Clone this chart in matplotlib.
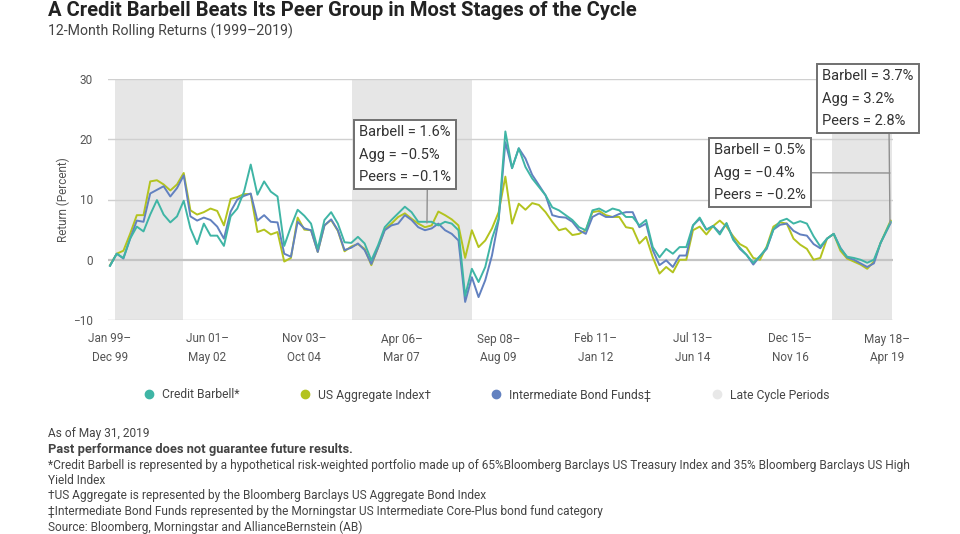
import numpy as np
from matplotlib import pyplot as plt
from matplotlib import font_manager
from matplotlib.lines import Line2D

names = {f.name for f in font_manager.fontManager.ttflist}
cond = 'Liberation Sans Narrow' if 'Liberation Sans Narrow' in names else 'Roboto'
plt.rcParams['font.family'] = [cond, 'DejaVu Sans']

# month index (0 = Dec 99), sampled every other month, last point May 19
months = np.append(np.arange(0, 232, 2), 233)

barbell = [-1.0, 1.0, 0.3, 3.5, 5.5, 4.7, 7.5, 9.9, 7.5, 6.2,
           7.2, 9.8, 5.2, 2.6, 6.0, 4.0, 4.0, 2.3, 7.2, 8.5,
           11.3, 15.8, 10.8, 13.0, 11.3, 10.5, 2.3, 5.5, 8.3, 7.3,
           6.0, 1.8, 6.6, 7.9, 6.0, 2.9, 2.8, 3.8, 2.7, -0.1,
           2.4, 5.4, 6.6, 7.7, 8.8, 7.9, 6.3, 6.3, 6.3, 5.7,
           6.3, 6.0, 4.9, -6.0, -1.5, -3.7, -1.2, 3.5, 6.8, 21.3,
           15.2, 18.5, 15.4, 13.5, 12.1, 10.7, 8.7, 8.2, 7.4, 6.6,
           5.4, 4.9, 8.2, 8.5, 7.9, 8.5, 8.2, 7.1, 7.1, 5.7,
           6.6, 2.1, 0.4, 1.8, 1.0, 2.1, 2.1, 5.7, 7.0, 5.0,
           5.6, 4.2, 6.1, 3.3, 2.0, 0.8, -0.5, 0.6, 2.0, 5.0,
           6.4, 6.8, 6.0, 6.4, 6.0, 3.9, 2.2, 3.5, 4.3, 1.9,
           0.5, 0.3, 0.0, -0.5, 0.0, 2.8, 6.3]

agg = [-0.9, 1.0, 1.5, 4.3, 7.4, 7.4, 13.0, 13.2, 12.5, 11.5,
       12.5, 14.4, 8.2, 7.5, 7.9, 8.5, 8.1, 5.7, 10.1, 10.4,
       10.9, 10.9, 4.6, 5.0, 4.2, 4.6, -0.3, 0.3, 7.0, 5.0,
       4.9, 1.3, 5.7, 6.6, 4.8, 1.4, 2.2, 2.6, 1.8, -0.9,
       2.0, 5.0, 6.0, 7.1, 7.7, 6.8, 6.0, 5.4, 5.7, 8.0,
       7.4, 6.7, 5.7, 0.3, 4.9, 2.1, 3.2, 5.2, 7.9, 13.8,
       6.0, 9.3, 8.3, 9.4, 9.1, 7.9, 6.3, 4.9, 5.2, 4.1,
       4.3, 4.9, 7.9, 8.1, 7.4, 7.1, 7.1, 5.4, 5.2, 2.7,
       3.8, 0.4, -2.3, -1.2, -2.1, 0.0, 0.0, 4.9, 5.5, 4.2,
       5.6, 6.5, 5.5, 3.9, 2.6, 2.0, 0.3, 0.0, 2.2, 5.5,
       6.2, 6.0, 3.5, 2.5, 1.8, 0.0, 0.3, 3.5, 4.3, 1.5,
       0.2, -0.3, -0.8, -1.5, -0.3, 2.8, 6.5]

peers = [-1.0, 1.0, 0.2, 3.5, 6.5, 6.3, 11.0, 11.6, 12.2, 10.5,
         11.9, 14.0, 7.2, 6.5, 7.0, 6.6, 5.5, 3.5, 8.0, 10.0,
         10.6, 11.0, 6.5, 7.4, 6.3, 6.2, 1.0, 0.5, 6.3, 5.2,
         4.9, 1.3, 5.7, 6.7, 4.9, 1.6, 2.0, 2.7, 1.6, -0.7,
         2.0, 4.9, 5.7, 6.0, 7.4, 6.6, 5.4, 4.9, 5.2, 6.0,
         4.9, 4.3, 3.2, -7.0, -2.9, -6.2, -3.4, 0.7, 6.6, 19.5,
         15.2, 18.5, 16.8, 14.1, 12.4, 10.7, 7.4, 7.1, 7.0, 6.3,
         4.9, 4.3, 7.1, 7.7, 7.1, 7.1, 7.6, 7.9, 7.9, 5.4,
         6.0, 1.6, -0.9, -0.1, -1.2, 0.7, 0.7, 5.7, 6.8, 5.0,
         5.6, 4.5, 6.0, 3.5, 1.8, 0.8, -0.8, 0.6, 1.8, 5.0,
         5.8, 6.0, 4.8, 4.2, 4.0, 2.6, 1.9, 3.5, 4.3, 2.0,
         0.4, 0.0, -0.6, -1.2, -0.6, 2.8, 6.1]

late_cycle = [(1.5, 21.8), (72.2, 108.1), (215.5, 233.4)]

tick_pos = [0, 29, 58, 87, 116, 145, 174, 203, 232]
tick_labels = ['Jan 99\u2013\nDec 99', 'Jun 01\u2013\nMay 02', 'Nov 03\u2013\nOct 04',
               'Apr 06\u2013\nMar 07', 'Sep 08\u2013\nAug 09', 'Feb 11\u2013\nJan 12',
               'Jul 13\u2013\nJun 14', 'Dec 15\u2013\nNov 16', 'May 18\u2013\nApr 19']

teal, lime, blue, shade = '#3fb5a5', '#b3c31f', '#6281c0', '#e6e6e6'
txt = '#333333'

fig = plt.figure(figsize=(9.6, 5.34), dpi=100)
ax = fig.add_axes([108 / 960, 1 - 320 / 534, 785 / 960, 241 / 534])

for a, b in late_cycle:
    ax.axvspan(a, b, color=shade, lw=0, zorder=0)

for v in [10, 20, 30, -10]:
    ax.axhline(v, color='#d0d0d0', lw=1, zorder=1)
ax.axhline(0, color='#c4c4c4', lw=1.6, zorder=1)

ax.plot(months, agg, color=lime, lw=1.4, zorder=3)
ax.plot(months, peers, color=blue, lw=1.4, zorder=4)
ax.plot(months, barbell, color=teal, lw=1.4, zorder=5)

ax.set_xlim(-0.6, 233.7)
ax.set_ylim(-10, 30)
ax.set_yticks([-10, 0, 10, 20, 30])
ax.set_xticks(tick_pos, tick_labels)
ax.tick_params(length=0, labelsize=8.5, colors='#555555')
ax.tick_params(axis='x', pad=9)
ax.tick_params(axis='y', pad=11)
for lab in ax.get_xticklabels():
    lab.set_linespacing(1.55)
for s in ax.spines.values():
    s.set_visible(False)
ax.set_ylabel('Return (Percent)', fontsize=8.5, color='#555555', labelpad=2)

box = dict(boxstyle='square,pad=0.35', fc='white', ec='#707070', lw=1.4)
arrow = dict(arrowstyle='-', color='#909090', lw=1, shrinkA=0, shrinkB=0)
ax.annotate('Barbell = 1.6%\nAgg = \u22120.5%\nPeers = \u22120.1%', xy=(94.6, 6.1),
            xytext=(74.4, 22.3), ha='left', va='top', fontsize=10.5, color=txt,
            linespacing=1.75, bbox=box,
            arrowprops=dict(arrow, relpos=(0.74, 0)), zorder=6)
ax.annotate('Barbell = 0.5%\nAgg = \u22120.4%\nPeers = \u22120.2%', xy=(232.8, 14.4),
            xytext=(180.3, 19.3), ha='left', va='top', fontsize=10.5, color=txt,
            linespacing=1.75, bbox=box,
            arrowprops=dict(arrow, relpos=(1, 0.5)), zorder=6)
ax.annotate('Barbell = 3.7%\nAgg = 3.2%\nPeers = 2.8%', xy=(232.8, 6.0),
            xytext=(212.6, 31.6), ha='left', va='top', fontsize=10.5, color=txt,
            linespacing=1.75, bbox=box,
            arrowprops=dict(arrow, relpos=(0.73, 0)), zorder=6)

handles = [Line2D([], [], ls='', marker='o', ms=6, color=c) for c in (teal, lime, blue, '#e8e8e8')]
fig.legend(handles, ['Credit Barbell*', 'US Aggregate Index\u2020',
                     'Intermediate Bond Funds\u2021', 'Late Cycle Periods'],
           loc='center', bbox_to_anchor=(0.503, 1 - 395 / 534), ncol=4, frameon=False,
           fontsize=8.7, handletextpad=0.1, columnspacing=4.4, labelcolor='#444444')

fig.text(48 / 960, 1 - 11 / 534, 'A Credit Barbell Beats Its Peer Group in Most Stages of the Cycle',
         fontsize=14.5, fontweight='bold', color='#222222', va='center')
fig.text(48 / 960, 1 - 31 / 534, '12-Month Rolling Returns (1999\u20132019)',
         fontsize=10.2, color='#444444', va='center')

notes = [('As of May 31, 2019', 'normal'),
         ('Past performance does not guarantee future results.', 'bold'),
         ('*Credit Barbell is represented by a hypothetical risk-weighted portfolio made up of 65%Bloomberg '
          'Barclays US Treasury Index and 35% Bloomberg Barclays US High', 'normal'),
         ('Yield Index', 'normal'),
         ('\u2020US Aggregate is represented by the Bloomberg Barclays US Aggregate Bond Index', 'normal'),
         ('\u2021Intermediate Bond Funds represented by the Morningstar US Intermediate Core-Plus bond fund category',
          'normal'),
         ('Source: Bloomberg, Morningstar and AllianceBernstein (AB)', 'normal')]
for y, (s, w) in zip([433, 449, 465, 481, 496, 511, 527], notes):
    fig.text(48 / 960, 1 - y / 534, s, fontsize=9.3 if w == 'bold' else 8.6, fontweight=w,
             color='#444444', va='center')

fig.savefig('out.png', dpi=100, facecolor='white')
